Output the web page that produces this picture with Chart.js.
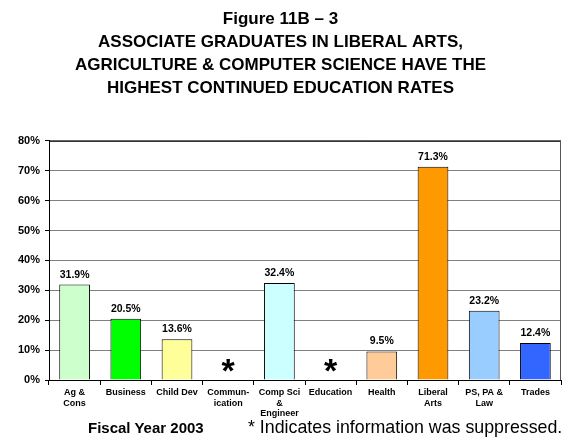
<!DOCTYPE html>
<html>
<head>
<meta charset="utf-8">
<script src="https://cdn.jsdelivr.net/npm/chart.js@4"></script>
<style>
  body { margin: 0; background: #fff; font-family: Arial, "Liberation Sans", sans-serif; }
  #wrap { position: relative; width: 572px; height: 443px; }
  #footer1 { position: absolute; left: 88px; top: 419px; font-size: 15px; font-weight: bold; }
  #footer2 { position: absolute; left: 248px; top: 417px; font-size: 17.8px; }
</style>
</head>
<body>
<div id="wrap">
  <canvas id="chart" width="572" height="443"></canvas>
  <div id="footer1">Fiscal Year 2003</div>
  <div id="footer2">* Indicates information was suppressed.</div>
</div>
<script>
// chart data
const categories = [['Ag &', 'Cons'], 'Business', 'Child Dev', ['Commun-', 'ication'], ['Comp Sci', '&', 'Engineer'],
  'Education', 'Health', ['Liberal', 'Arts'], ['PS, PA &', 'Law'], 'Trades'];
const rates = [31.9, 20.5, 13.6, null, 32.4, null, 9.5, 71.3, 23.2, 12.4];
const barColors = ['#ccffcc', '#00ff00', '#ffff99', '#ffffff', '#ccffff', '#ffffff', '#ffcc99', '#ff9900', '#99ccff', '#3366ff'];
const yTicks = [0, 10, 20, 30, 40, 50, 60, 70, 80];

const font = "Arial, 'Liberation Sans', sans-serif";

// value labels, asterisks for suppressed values, plot border
const labelPlugin = {
  id: 'labels',
  afterDatasetsDraw(chart) {
    const ctx = chart.ctx;
    const meta = chart.getDatasetMeta(0);
    const x = chart.scales.x, y = chart.scales.y;
    ctx.save();
    ctx.textAlign = 'center';
    ctx.textBaseline = 'middle';
    ctx.fillStyle = '#000';
    rates.forEach((v, i) => {
      if (v === null) {
        ctx.font = 'bold 34px ' + font;
        ctx.fillText('*', x.getPixelForValue(i), y.getPixelForValue(0) - 7);
      } else {
        const bar = meta.data[i];
        ctx.font = 'bold 10.5px ' + font;
        ctx.fillText(v.toFixed(1) + '%', bar.x, bar.y - 10);
      }
    });
    const a = chart.chartArea;
    ctx.lineWidth = 1;
    ctx.strokeStyle = '#000';
    ctx.beginPath();
    ctx.moveTo(a.left, a.top + 0.5);
    ctx.lineTo(a.right, a.top + 0.5);
    ctx.stroke();
    ctx.strokeStyle = '#555';
    ctx.beginPath();
    ctx.moveTo(a.right - 0.5, a.top);
    ctx.lineTo(a.right - 0.5, a.bottom);
    ctx.stroke();
    ctx.restore();
  }
};

new Chart(document.getElementById('chart'), {
  type: 'bar',
  data: {
    labels: categories,
    datasets: [{
      data: rates,
      backgroundColor: barColors,
      borderColor: '#000',
      borderWidth: 1,
      categoryPercentage: 1,
      barPercentage: 0.6
    }]
  },
  options: {
    responsive: false,
    animation: false,
    layout: { padding: { left: 0, right: 11, top: 0, bottom: 0 } },
    plugins: {
      legend: { display: false },
      tooltip: { enabled: false },
      title: {
        display: true,
        text: ['Figure 11B \u2013 3', 'ASSOCIATE GRADUATES IN LIBERAL ARTS,',
          'AGRICULTURE & COMPUTER SCIENCE HAVE THE', 'HIGHEST CONTINUED EDUCATION RATES'],
        color: '#000',
        font: { family: font, size: 17, weight: 'bold', lineHeight: 1.35 },
        padding: { top: 8, bottom: 41 }
      }
    },
    scales: {
      x: {
        afterFit(scale) { scale.height = 63; },
        grid: { display: true, drawOnChartArea: false, color: '#000', tickLength: 5, offset: true },
        border: { color: '#000' },
        ticks: {
          color: '#000',
          font: { family: font, size: 9, weight: 'bold', lineHeight: 1.2 },
          maxRotation: 0,
          autoSkip: false,
          padding: 2
        }
      },
      y: {
        min: 0,
        max: 80,
        afterBuildTicks(scale) { scale.ticks = yTicks.map(v => ({ value: v })); },
        afterFit(scale) { scale.width = 49; },
        grid: { color: '#808080', drawTicks: true, tickLength: 4, tickColor: '#000' },
        border: { color: '#000' },
        ticks: {
          color: '#000',
          font: { family: font, size: 11, weight: 'bold' },
          padding: 5,
          callback: v => v + '%'
        }
      }
    }
  },
  plugins: [labelPlugin]
});
</script>
</body>
</html>
